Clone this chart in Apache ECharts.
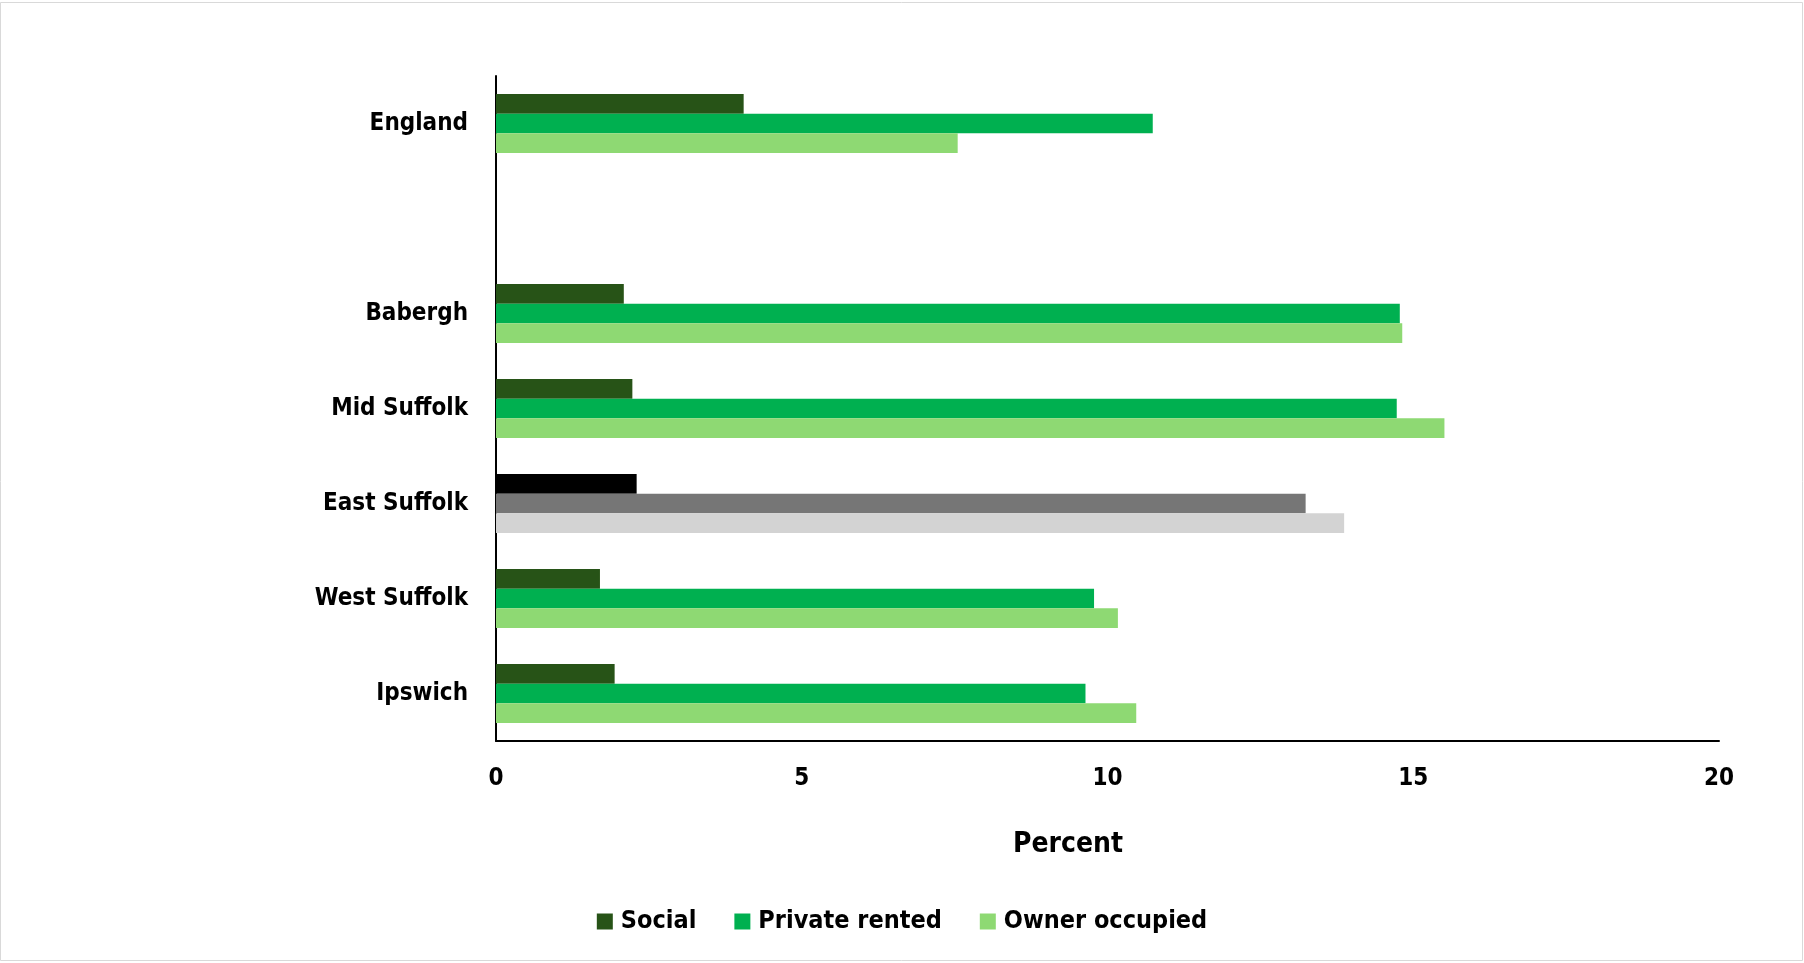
<!DOCTYPE html>
<html>
<head>
<meta charset="utf-8">
<script src="https://cdn.jsdelivr.net/npm/echarts@6/dist/echarts.min.js"></script>
<style>
html,body{margin:0;padding:0;background:#fff;}
#c{width:1804px;height:963px;}
</style>
</head>
<body>
<div id="c"></div>
<script>
const categories = ['England', '', 'Babergh', 'Mid Suffolk', 'East Suffolk', 'West Suffolk', 'Ipswich'];
const social = [4.05, null, 2.09, 2.23, 2.30, 1.70, 1.94];
const privateRented = [10.74, null, 14.78, 14.73, 13.24, 9.78, 9.64];
const ownerOccupied = [7.55, null, 14.82, 15.51, 13.87, 10.17, 10.47];
const xTicks = [0, 5, 10, 15, 20];
const seriesNames = ['Social', 'Private rented', 'Owner occupied'];
const highlightCategory = 'East Suffolk';

const colors = ['#275317', '#00B050', '#8ED973'];
const highlightColors = ['#000000', '#767676', '#D3D3D3'];
const FONT = '"Liberation Sans Narrow", "DejaVu Sans Condensed", "Liberation Sans", sans-serif';

function buildData(values, s) {
  return values.map((v, i) => categories[i] === highlightCategory
    ? { value: v, itemStyle: { color: highlightColors[s] } }
    : v);
}

const chart = echarts.init(document.getElementById('c'), null, { renderer: 'canvas' });
chart.setOption({
  animation: false,
  backgroundColor: '#ffffff',
  color: colors,
  grid: { left: 496, right: 85, top: 76, bottom: 222, containLabel: false },
  xAxis: {
    type: 'value',
    min: xTicks[0],
    max: xTicks[xTicks.length - 1],
    interval: xTicks[1] - xTicks[0],
    axisLine: { show: true, lineStyle: { color: '#000', width: 2 } },
    axisTick: { show: false },
    splitLine: { show: false },
    axisLabel: { margin: 26, color: '#000', fontFamily: FONT, fontWeight: 'bold', fontSize: 24 }
  },
  yAxis: {
    type: 'category',
    inverse: true,
    data: categories,
    axisLine: { show: true, lineStyle: { color: '#000', width: 2 } },
    axisTick: { show: false },
    axisLabel: { margin: 28, color: '#000', fontFamily: FONT, fontWeight: 'bold', fontSize: 24 }
  },
  legend: {
    data: seriesNames,
    left: 'center',
    top: 904,
    itemWidth: 16,
    itemHeight: 16,
    itemGap: 38,
    icon: 'rect',
    textStyle: { color: '#000', fontFamily: FONT, fontWeight: 'bold', fontSize: 25, padding: [0, 0, 0, 3] }
  },
  graphic: [
    { type: 'rect', shape: { x: 0.5, y: 2.5, width: 1802, height: 958 }, style: { fill: 'none', stroke: '#d9d9d9', lineWidth: 1 }, silent: true },
    { type: 'text', x: 1068, y: 845, style: { text: 'Percent', fill: '#000', font: 'bold 28px ' + FONT, textAlign: 'center', textVerticalAlign: 'middle' } }
  ],
  series: [social, privateRented, ownerOccupied].map((vals, s) => ({
    name: seriesNames[s],
    type: 'bar',
    data: buildData(vals, s),
    barGap: '0%',
    barCategoryGap: '38%',
    itemStyle: { color: colors[s] }
  }))
});
</script>
</body>
</html>
